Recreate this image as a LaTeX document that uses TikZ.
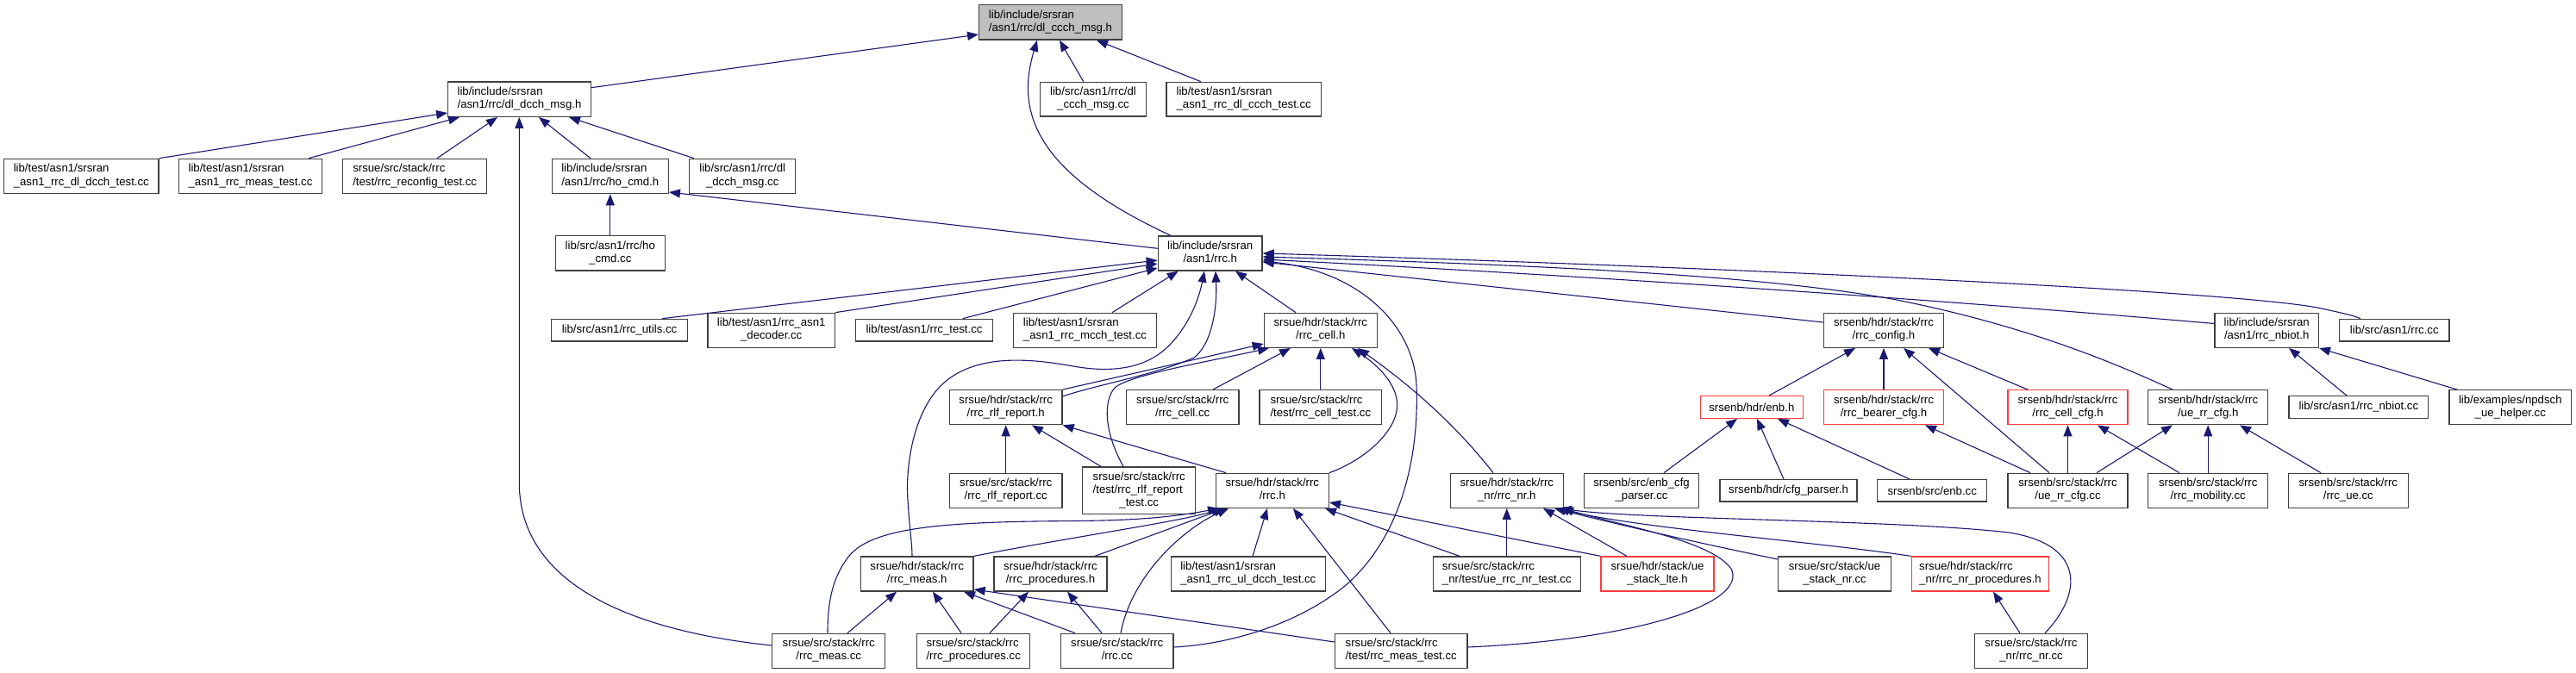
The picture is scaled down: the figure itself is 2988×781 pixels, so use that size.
\documentclass[tikz,border=0pt]{standalone}
\usepackage{fontspec}
\setmainfont{Liberation Sans}
\usetikzlibrary{arrows.meta}
\definecolor{edgec}{RGB}{25,25,112}
\definecolor{boxc}{RGB}{64,64,64}
\definecolor{redc}{RGB}{255,60,60}
\definecolor{rootfill}{RGB}{191,191,191}
\newcommand{\twol}[2]{\begin{tabular}{@{}l@{}}#1\\\multicolumn{1}{@{}c@{}}{#2}\end{tabular}}
\newcommand{\threel}[3]{\begin{tabular}{@{}l@{}}#1\\#2\\\multicolumn{1}{@{}c@{}}{#3}\end{tabular}}
\begin{document}
\begin{tikzpicture}[x=1pt,y=-1pt,
 box/.style={draw=boxc, line width=1.3pt, fill=white, inner sep=0pt, font=\fontsize{13.2}{15}\selectfont},
 redbox/.style={box, draw=redc},
 sz/.style 2 args={minimum width=#1pt, minimum height=#2pt},
 dep/.style={draw=edgec, line width=1.1pt, {Triangle[length=13pt,width=10pt]}-}]
\useasboundingbox (0,0) rectangle (2988,781);
% row 0
\node[box, sz={165.6}{40.3}, fill=rootfill] (root) at (1218.5,25.9) {\twol{lib/include/srsran}{/asn1/rrc/dl\_ccch\_msg.h}};
% row 1
\node[box, sz={165.6}{40.3}] (dldcchh) at (602.5,115.2) {\twol{lib/include/srsran}{/asn1/rrc/dl\_dcch\_msg.h}};
\node[box, sz={122.6}{39.7}] (dlccchcc) at (1268,115.2) {\twol{lib/src/asn1/rrc/dl}{\_ccch\_msg.cc}};
\node[box, sz={179.3}{39.7}] (dlccchtest) at (1442.7,115.2) {\twol{lib/test/asn1/srsran}{\_asn1\_rrc\_dl\_ccch\_test.cc}};
% row 2
\node[box, sz={179.3}{40.3}] (dldcchtest) at (94.3,204.5) {\twol{lib/test/asn1/srsran}{\_asn1\_rrc\_dl\_dcch\_test.cc}};
\node[box, sz={165.6}{40.3}] (lmeastest) at (290.5,204.5) {\twol{lib/test/asn1/srsran}{\_asn1\_rrc\_meas\_test.cc}};
\node[box, sz={167}{40.3}] (reconf) at (481.2,204.5) {\twol{srsue/src/stack/rrc}{/test/rrc\_reconfig\_test.cc}};
\node[box, sz={135}{40.3}] (hocmdh) at (707.8,204.5) {\twol{lib/include/srsran}{/asn1/rrc/ho\_cmd.h}};
\node[box, sz={123}{40.3}] (dldcchcc) at (861.2,204.5) {\twol{lib/src/asn1/rrc/dl}{\_dcch\_msg.cc}};
% row 3
\node[box, sz={127}{40.3}] (hocmdcc) at (707.8,293.9) {\twol{lib/src/asn1/rrc/ho}{\_cmd.cc}};
\node[box, sz={120.7}{40}] (rrch) at (1403.7,294) {\twol{lib/include/srsran}{/asn1/rrc.h}};
% row 4
\node[box, sz={157.6}{25.7}] (rrcutils) at (718.5,383.2) {lib/src/asn1/rrc\_utils.cc};
\node[box, sz={147.3}{40}] (decoder) at (894.7,383.3) {\twol{lib/test/asn1/rrc\_asn1}{\_decoder.cc}};
\node[box, sz={158.6}{25.7}] (rrctest) at (1072,383.2) {lib/test/asn1/rrc\_test.cc};
\node[box, sz={165.6}{40}] (mcch) at (1258.5,383.3) {\twol{lib/test/asn1/srsran}{\_asn1\_rrc\_mcch\_test.cc}};
\node[box, sz={131}{40}] (cellh) at (1531.8,383.3) {\twol{srsue/hdr/stack/rrc}{/rrc\_cell.h}};
\node[box, sz={139.4}{40}] (configh) at (2185,383.3) {\twol{srsenb/hdr/stack/rrc}{/rrc\_config.h}};
\node[box, sz={120.3}{40}] (nbioth) at (2629.2,383.3) {\twol{lib/include/srsran}{/asn1/rrc\_nbiot.h}};
\node[box, sz={127.3}{25.7}] (lrrccc) at (2777.3,383.2) {lib/src/asn1/rrc.cc};
% row 5
\node[box, sz={130.7}{40}] (rlfh) at (1166.7,472.7) {\twol{srsue/hdr/stack/rrc}{/rrc\_rlf\_report.h}};
\node[box, sz={130.7}{40}] (cellcc) at (1371.7,472.7) {\twol{srsue/src/stack/rrc}{/rrc\_cell.cc}};
\node[box, sz={141.7}{40}] (celltest) at (1531.8,472.7) {\twol{srsue/src/stack/rrc}{/test/rrc\_cell\_test.cc}};
\node[redbox, sz={119}{25.6}] (enbh) at (2031.8,472.5) {srsenb/hdr/enb.h};
\node[redbox, sz={139.4}{40}] (bearerh) at (2185,472.7) {\twol{srsenb/hdr/stack/rrc}{/rrc\_bearer\_cfg.h}};
\node[redbox, sz={139}{40}] (cellcfgh) at (2398.5,472.7) {\twol{srsenb/hdr/stack/rrc}{/rrc\_cell\_cfg.h}};
\node[box, sz={139}{40}] (uerrh) at (2561.2,472.7) {\twol{srsenb/hdr/stack/rrc}{/ue\_rr\_cfg.h}};
\node[box, sz={161.7}{25.6}] (nbiotcc) at (2735.8,472.5) {lib/src/asn1/rrc\_nbiot.cc};
\node[box, sz={141.7}{40}] (npdsch) at (2911.8,472.7) {\twol{lib/examples/npdsch}{\_ue\_helper.cc}};
% row 6
\node[box, sz={130.7}{40}] (rlfcc) at (1166.7,569.3) {\twol{srsue/src/stack/rrc}{/rrc\_rlf\_report.cc}};
\node[box, sz={131}{54.7}] (rlftest) at (1321.2,569.3) {\threel{srsue/src/stack/rrc}{/test/rrc\_rlf\_report}{\_test.cc}};
\node[box, sz={131}{40}] (urrch) at (1475.8,569.3) {\twol{srsue/hdr/stack/rrc}{/rrc.h}};
\node[box, sz={131}{40}] (nrh) at (1747.8,569.3) {\twol{srsue/hdr/stack/rrc}{\_nr/rrc\_nr.h}};
\node[box, sz={133.4}{40}] (enbcfg) at (1904,569.3) {\twol{srsenb/src/enb\_cfg}{\_parser.cc}};
\node[box, sz={159}{25.3}] (cfgparser) at (2074.5,569.3) {srsenb/hdr/cfg\_parser.h};
\node[box, sz={127}{25.3}] (enbcc) at (2241.2,569.3) {srsenb/src/enb.cc};
\node[box, sz={139}{40}] (uerrcc) at (2398.5,569.3) {\twol{srsenb/src/stack/rrc}{/ue\_rr\_cfg.cc}};
\node[box, sz={139}{40}] (mobility) at (2561.2,569.3) {\twol{srsenb/src/stack/rrc}{/rrc\_mobility.cc}};
\node[box, sz={139}{40}] (rrcue) at (2723.8,569.3) {\twol{srsenb/src/stack/rrc}{/rrc\_ue.cc}};
% row 7
\node[box, sz={130.7}{40}] (meash) at (1063.7,666) {\twol{srsue/hdr/stack/rrc}{/rrc\_meas.h}};
\node[box, sz={131}{40}] (proch) at (1218.5,666) {\twol{srsue/hdr/stack/rrc}{/rrc\_procedures.h}};
\node[box, sz={179}{40}] (ultest) at (1447.8,666) {\twol{lib/test/asn1/srsran}{\_asn1\_rrc\_ul\_dcch\_test.cc}};
\node[box, sz={171}{40}] (nrtest) at (1747.8,666) {\twol{srsue/src/stack/rrc}{\_nr/test/ue\_rrc\_nr\_test.cc}};
\node[redbox, sz={131}{40}] (stacklte) at (1922.5,666) {\twol{srsue/hdr/stack/ue}{\_stack\_lte.h}};
\node[box, sz={130.6}{40}] (stacknr) at (2128,666) {\twol{srsue/src/stack/ue}{\_stack\_nr.cc}};
\node[redbox, sz={159.4}{40}] (nrproch) at (2297,666) {\twol{srsue/hdr/stack/rrc}{\_nr/rrc\_nr\_procedures.h}};
% row 8
\node[box, sz={131}{40}] (meascc) at (961.2,755.3) {\twol{srsue/src/stack/rrc}{/rrc\_meas.cc}};
\node[box, sz={131}{40}] (proccc) at (1129.2,755.3) {\twol{srsue/src/stack/rrc}{/rrc\_procedures.cc}};
\node[box, sz={130.7}{40}] (urrccc) at (1295.7,755.3) {\twol{srsue/src/stack/rrc}{/rrc.cc}};
\node[box, sz={153.7}{40}] (meastest) at (1625.2,755.3) {\twol{srsue/src/stack/rrc}{/test/rrc\_meas\_test.cc}};
\node[box, sz={130.6}{40}] (nrcc) at (2356,755.3) {\twol{srsue/src/stack/rrc}{\_nr/rrc\_nr.cc}};

% edges into root
\draw[dep] (root.west |- 0,40) -- (dldcchh.east |- 0,101.7);
\draw[dep] (1229,0 |- root.south) -- (1256.7,0 |- dlccchcc.north);
\draw[dep] (1272,0 |- root.south) -- (1393,0 |- dlccchtest.north);
\draw[dep] (1203,0 |- root.south) .. controls (1178,130) and (1200,200) .. (1358,0 |- rrch.north);
% edges into dl_dcch_msg.h
\draw[dep] (dldcchh.west |- 0,131) -- (dldcchtest.north east);
\draw[dep] (533,0 |- dldcchh.south) -- (358,0 |- lmeastest.north);
\draw[dep] (577,0 |- dldcchh.south) -- (507,0 |- reconf.north);
\draw[dep] (602.3,0 |- dldcchh.south) -- (602.3,560) .. controls (602.3,690) and (760,735) .. (meascc.west |- 0,749);
\draw[dep] (625,0 |- dldcchh.south) -- (685,0 |- hocmdh.north);
\draw[dep] (660,0 |- dldcchh.south) -- (805,0 |- dldcchcc.north);
% ho_cmd.h
\draw[dep] (hocmdh.south) -- (hocmdcc.north);
\draw[dep] (hocmdh.east |- 0,223) -- (rrch.west |- 0,288.3);
% edges into lib rrc.h
\draw[dep] (rrch.west |- 0,302) -- (768,0 |- rrcutils.north);
\draw[dep] (rrch.west |- 0,306) -- (decoder.north east);
\draw[dep] (rrch.west |- 0,311) -- (1116.7,0 |- rrctest.north);
\draw[dep] (1366.7,0 |- rrch.south) -- (1290,0 |- mcch.north);
\draw[dep] (1433,0 |- rrch.south) -- (1503,0 |- cellh.north);
\draw[dep] (1397,0 |- rrch.south) .. controls (1390,350) and (1378,378) .. (1357,400)
  .. controls (1330,428) and (1290,433) .. (1245,425)
  .. controls (1200,417) and (1140,410) .. (1100,440)
  .. controls (1060,470) and (1050,540) .. (1053,580)
  .. controls (1055,615) and (1058,630) .. (1058,0 |- meash.north);
\draw[dep] (1410,0 |- rrch.south) .. controls (1412,360) and (1405,400) .. (1385,415)
  .. controls (1340,435) and (1270,447) .. (rlfh.east |- 0,460);
\draw[dep] (rrch.east |- 0,304) -- (configh.west |- 0,374);
\draw[dep] (rrch.east |- 0,298) .. controls (1800,308) and (2050,320) .. (2200,348)
  .. controls (2350,378) and (2450,420) .. (2520,0 |- uerrh.north);
\draw[dep] (rrch.east |- 0,301) .. controls (1900,323) and (2300,352) .. (nbioth.west |- 0,375.5);
\draw[dep] (rrch.east |- 0,294) .. controls (2000,310) and (2600,338) .. (2693,358)
  .. controls (2715,363) and (2730,366) .. (2738,0 |- lrrccc.north);
\draw[dep] (rrch.east |- 0,303) .. controls (1580,315) and (1640,380) .. (1643,447)
  .. controls (1646,520) and (1630,620) .. (1560,680)
  .. controls (1500,728) and (1420,748) .. (urrccc.east |- 0,751);
% edges into rrc_cell.h
\draw[dep] (cellh.west |- 0,399) -- (rlfh.north east);
\draw[dep] (1472,0 |- cellh.south) .. controls (1400,420) and (1310,435) .. (1293,450)
  .. controls (1280,465) and (1280,500) .. (1303,0 |- rlftest.north);
\draw[dep] (1568,0 |- cellh.south) .. controls (1600,425) and (1625,450) .. (1620,477)
  .. controls (1615,505) and (1580,535) .. (urrch.north east);
\draw[dep] (1575,0 |- cellh.south) .. controls (1640,450) and (1690,495) .. (1732,0 |- nrh.north);
\draw[dep] (1497,0 |- cellh.south) -- (1407,0 |- cellcc.north);
\draw[dep] (cellh.south) -- (celltest.north);
% edges into rrc_rlf_report.h
\draw[dep] (rlfh.south) -- (rlfcc.north);
\draw[dep] (1197,0 |- rlfh.south) -- (1277,0 |- rlftest.north);
\draw[dep] (rlfh.south east) -- (1422,0 |- urrch.north);
% edges into srsue rrc.h
\draw[dep] (1418,0 |- urrch.south) .. controls (1370,605) and (1250,622) .. (meash.north east);
\draw[dep] (1421,0 |- urrch.south) -- (1270,0 |- proch.north);
\draw[dep] (1414,0 |- urrch.south) .. controls (1330,606) and (1260,604) .. (1200,605)
  .. controls (1080,607) and (1010,615) .. (985,645)
  .. controls (965,670) and (960,700) .. (960,0 |- meascc.north);
\draw[dep] (1425,0 |- urrch.south) .. controls (1370,615) and (1312,670) .. (1300,0 |- urrccc.north);
\draw[dep] (1470,0 |- urrch.south) -- (1453,0 |- ultest.north);
\draw[dep] (1537,0 |- urrch.south) -- (1693,0 |- nrtest.north);
\draw[dep] (urrch.east |- 0,583) -- (stacklte.north west);
\draw[dep] (1500,0 |- urrch.south) -- (1613,0 |- meastest.north);
% edges into rrc_meas.h
\draw[dep] (1040,0 |- meash.south) -- (983,0 |- meascc.north);
\draw[dep] (1082,0 |- meash.south) -- (1115,0 |- proccc.north);
\draw[dep] (1118,0 |- meash.south) -- (1247,0 |- urrccc.north);
\draw[dep] (meash.east |- 0,684) -- (meastest.west |- 0,745);
% edges into rrc_procedures.h
\draw[dep] (1193,0 |- proch.south) -- (1148,0 |- proccc.north);
\draw[dep] (1238,0 |- proch.south) -- (1278,0 |- urrccc.north);
% edges into rrc_nr.h
\draw[dep] (nrh.south) -- (nrtest.north);
\draw[dep] (1790,0 |- nrh.south) -- (1887,0 |- stacklte.north);
\draw[dep] (1803,0 |- nrh.south) .. controls (1870,607) and (1960,628) .. (stacknr.west |- 0,649);
\draw[dep] (1807,0 |- nrh.south) .. controls (1900,613) and (2100,628) .. (nrproch.north west);
\draw[dep] (1810,0 |- nrh.south) .. controls (1900,603) and (2200,603) .. (2330,618)
  .. controls (2420,632) and (2415,690) .. (2372,0 |- nrcc.north);
\draw[dep] (1812,0 |- nrh.south) .. controls (1890,612) and (1985,628) .. (2008,660)
  .. controls (2028,700) and (1900,742) .. (meastest.east |- 0,751);
% srsenb
\draw[dep] (2152,0 |- configh.south) -- (2052,0 |- enbh.north);
\draw[dep] (configh.south) -- (bearerh.north);
\draw[dep] (2208,0 |- configh.south) -- (2377,0 |- uerrcc.north);
\draw[dep] (2237,0 |- configh.south) -- (2352,0 |- cellcfgh.north);
\draw[dep] (2015,0 |- enbh.south) -- (1930,0 |- enbcfg.north);
\draw[dep] (2038,0 |- enbh.south) -- (2069,0 |- cfgparser.north);
\draw[dep] (2062,0 |- enbh.south) -- (2215,0 |- enbcc.north);
\draw[dep] (2233,0 |- bearerh.south) -- (2355,0 |- uerrcc.north);
\draw[dep] (cellcfgh.south) -- (uerrcc.north);
\draw[dep] (2433,0 |- cellcfgh.south) -- (2528,0 |- mobility.north);
\draw[dep] (2520,0 |- uerrh.south) -- (2432,0 |- uerrcc.north);
\draw[dep] (uerrh.south) -- (mobility.north);
\draw[dep] (2598,0 |- uerrh.south) -- (2692,0 |- rrcue.north);
\draw[dep] (2655,0 |- nbioth.south) -- (2722,0 |- nbiotcc.north);
\draw[dep] (nbioth.south east) -- (2850,0 |- npdsch.north);
\draw[dep] (2312,0 |- nrproch.south) -- (2343,0 |- nrcc.north);
\end{tikzpicture}
\end{document}
